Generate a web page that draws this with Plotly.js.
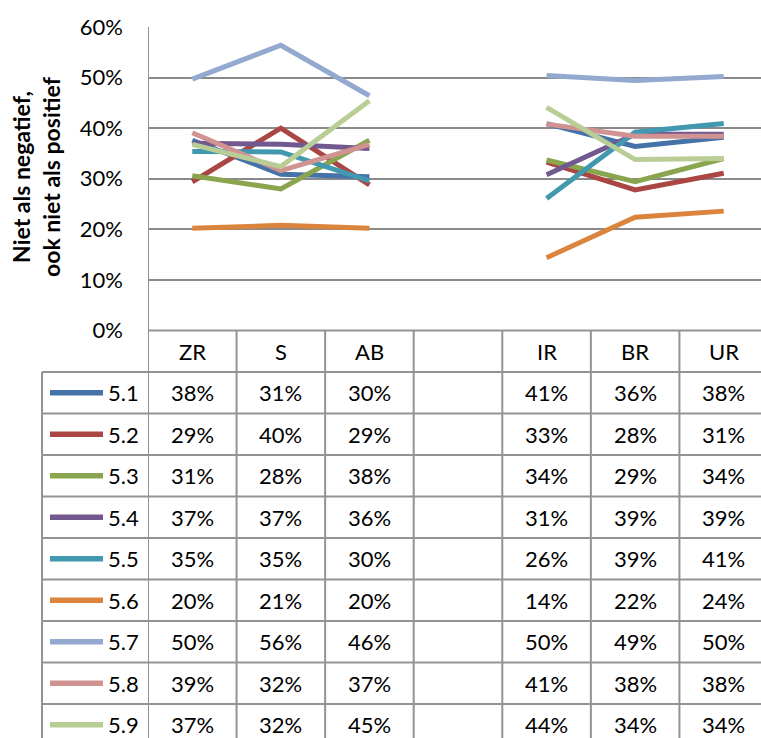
<!DOCTYPE html>
<html>
<head>
<meta charset="utf-8">
<script src="https://cdn.plot.ly/plotly-3.0.1.min.js"></script>
<style>
html, body { margin: 0; padding: 0; overflow: hidden; background: #fff; }
#chart { width: 770px; height: 738px; }
</style>
</head>
<body>
<div id="chart"></div>
<script>
// ---- data ----
const categories = ['ZR', 'S', 'AB', '', 'IR', 'BR', 'UR'];
const seriesNames = ['5.1', '5.2', '5.3', '5.4', '5.5', '5.6', '5.7', '5.8', '5.9'];
const s51 = [37.6, 30.9, 30.4, null, 40.9, 36.4, 38.2];
const s52 = [29.4, 40.0, 28.8, null, 33.3, 27.8, 31.1];
const s53 = [30.6, 28.0, 37.6, null, 33.7, 29.4, 34.0];
const s54 = [37.0, 36.8, 36.0, null, 30.8, 38.8, 38.8];
const s55 = [35.4, 35.3, 29.6, null, 26.1, 39.2, 40.9];
const s56 = [20.2, 20.8, 20.2, null, 14.4, 22.4, 23.6];
const s57 = [49.7, 56.4, 46.4, null, 50.4, 49.4, 50.2];
const s58 = [39.1, 31.6, 36.8, null, 40.8, 38.4, 38.4];
const s59 = [36.8, 32.4, 45.4, null, 44.1, 33.8, 34.0];
const seriesValues = [s51, s52, s53, s54, s55, s56, s57, s58, s59];
const colors = ['#4572A7', '#AA4643', '#89A54E', '#71588F', '#4198AF', '#DB843D', '#93A9CF', '#D19392', '#B9CD96'];
const yTickVals = [0, 10, 20, 30, 40, 50, 60];
const yTitle = 'Niet als negatief,<br>ook niet als positief';

// ---- layout geometry (pixels of the figure) ----
const W = 770, H = 738;
const plotL = 148, plotR = 768, plotT = 27, plotB = 330.5;
const tableL = 42, headerB = 372, rowH = 41.5;
const px = v => v / W;
const py = v => 1 - v / H;
const FONT = 'Lato, "Open Sans", sans-serif';
const gridCol = '#8a8a8a';
const tableCol = '#939393';

const idx = categories.map((c, i) => i);

const traces = seriesValues.map((vals, k) => ({
  type: 'scatter',
  mode: 'lines',
  x: idx,
  y: vals,
  name: seriesNames[k],
  connectgaps: false,
  line: { color: colors[k], width: 5 },
  hoverinfo: 'skip'
}));

const shapes = [];
const annotations = [];

// header row top (0% axis line)
shapes.push({ type: 'line', xref: 'paper', yref: 'paper', x0: px(plotL), x1: 1, y0: py(plotB), y1: py(plotB),
  line: { color: tableCol, width: 2 } });
// horizontal table lines
for (let i = 0; i <= seriesNames.length; i++) {
  const y = headerB + rowH * i;
  shapes.push({ type: 'line', xref: 'paper', yref: 'paper', x0: px(tableL), x1: 1, y0: py(y), y1: py(y),
    line: { color: tableCol, width: 2 } });
}
// vertical column lines
for (let k = 0; k <= categories.length; k++) {
  const top = k === 0 ? plotT : plotB;
  shapes.push({ type: 'line', xref: 'x', yref: 'paper', x0: k - 0.5, x1: k - 0.5, y0: py(top), y1: -0.05,
    line: { color: tableCol, width: 2 } });
}
// legend column left border
shapes.push({ type: 'line', xref: 'paper', yref: 'paper', x0: px(tableL), x1: px(tableL), y0: py(headerB), y1: -0.05,
  line: { color: tableCol, width: 2 } });

// header labels
categories.forEach((c, i) => {
  if (!c) return;
  annotations.push({ xref: 'x', yref: 'paper', x: i, y: py((plotB + headerB) / 2), text: c, showarrow: false,
    xanchor: 'center', yanchor: 'middle', font: { family: FONT, size: 22, color: '#000' } });
});

// table rows
seriesValues.forEach((vals, k) => {
  const yc = headerB + rowH * k + rowH / 2;
  shapes.push({ type: 'line', xref: 'paper', yref: 'paper', x0: px(50), x1: px(103), y0: py(yc), y1: py(yc),
    line: { color: colors[k], width: 5.5 } });
  annotations.push({ xref: 'paper', yref: 'paper', x: px(106), y: py(yc), text: seriesNames[k], showarrow: false,
    xanchor: 'left', yanchor: 'middle', font: { family: FONT, size: 22, color: '#000' } });
  vals.forEach((v, i) => {
    if (v === null) return;
    annotations.push({ xref: 'x', yref: 'paper', x: i, y: py(yc), text: Math.round(v) + '%', showarrow: false,
      xanchor: 'center', yanchor: 'middle', font: { family: FONT, size: 22, color: '#000' } });
  });
});

// y-axis title
annotations.push({ xref: 'paper', yref: 'paper', x: px(36), y: py(177), text: '<b>' + yTitle + '</b>',
  showarrow: false, textangle: -90, xanchor: 'center', yanchor: 'middle',
  font: { family: FONT, size: 23, color: '#000' } });

const layout = {
  width: W, height: H,
  margin: { l: 0, r: 0, t: 0, b: 0 },
  paper_bgcolor: '#fff', plot_bgcolor: '#fff',
  showlegend: false,
  xaxis: {
    domain: [px(plotL), px(plotR)],
    range: [-0.5, categories.length - 0.5],
    showgrid: false, zeroline: false, showticklabels: false, showline: false, fixedrange: true
  },
  yaxis: {
    domain: [py(plotB), py(plotT)],
    range: [0, 60],
    tickvals: yTickVals,
    ticktext: yTickVals.map(v => v + '%'),
    showgrid: true, gridcolor: gridCol, gridwidth: 2,
    zeroline: false, showline: false, ticks: '',
    ticklabelstandoff: 24,
    tickfont: { family: FONT, size: 22, color: '#000' },
    fixedrange: true
  },
  shapes: shapes,
  annotations: annotations
};

Plotly.newPlot('chart', traces, layout, { displayModeBar: false, staticPlot: true });
</script>
</body>
</html>
